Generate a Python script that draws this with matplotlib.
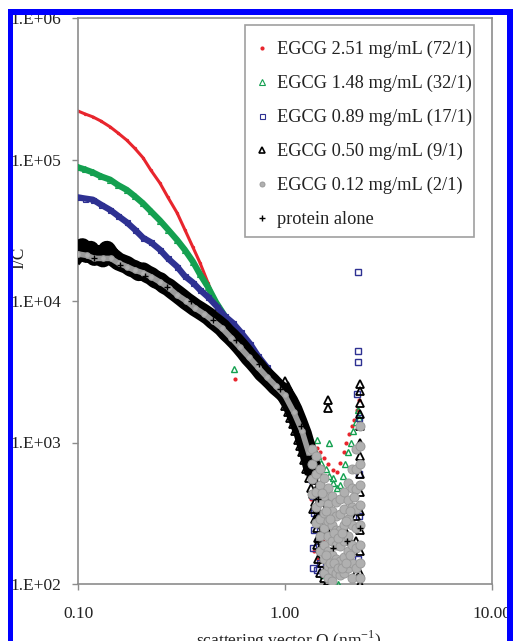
import matplotlib
matplotlib.use('Agg')
import matplotlib.pyplot as plt
from matplotlib.patches import Rectangle

plt.rcParams['font.family'] = 'Liberation Serif'
plt.rcParams['mathtext.fontset'] = 'custom'
plt.rcParams['mathtext.rm'] = 'Liberation Serif'

# ---- data (Q in nm^-1, I/C) ----
red_q = [0.100, 0.108, 0.118, 0.129, 0.143, 0.156, 0.172, 0.188, 0.206, 0.225, 0.249, 0.272, 0.301,
         0.328, 0.359, 0.388, 0.424, 0.464, 0.513, 0.560, 0.613, 0.677, 0.740, 0.810, 0.894, 0.977]
red_i = [2.2e5, 2.1e5, 2.0e5, 1.87e5, 1.7e5, 1.54e5, 1.37e5, 1.2e5, 1.03e5, 8.4e4, 6.8e4, 5.4e4, 4.2e4,
         3.2e4, 2.4e4, 1.87e4, 1.35e4, 9.6e3, 7.6e3, 6.4e3, 5.4e3, 4.4e3, 3.6e3, 3.0e3, 2.5e3, 2.1e3]
red_tail_q = [1.00, 1.05, 1.10, 1.15, 1.20, 1.25, 1.30, 1.36, 1.42, 1.48, 1.55, 1.62, 1.70, 1.78, 1.85,
              1.92, 1.98, 2.04, 2.10, 2.16, 2.22, 2.27, 1.38, 1.45, 1.52, 1.34, 0.574, 1.30]
red_tail_i = [1.9e3, 1.75e3, 1.6e3, 1.45e3, 1.3e3, 1.2e3, 1.1e3, 1.0e3, 920, 850, 780, 700, 640, 620, 720,
              850, 1000, 1150, 1300, 1450, 1700, 2000, 170, 150, 200, 400, 2.8e3, 600]

green_q = [0.100, 0.108, 0.118, 0.129, 0.143, 0.156, 0.172, 0.188, 0.206, 0.225, 0.249, 0.272, 0.301,
           0.328, 0.359, 0.388, 0.424, 0.464, 0.513, 0.560, 0.613, 0.677, 0.740, 0.810, 0.894, 0.977]
green_i = [8.8e4, 8.5e4, 8.1e4, 7.6e4, 7.2e4, 6.6e4, 6.1e4, 5.5e4, 4.9e4, 4.3e4, 3.7e4, 3.2e4, 2.7e4,
           2.3e4, 1.9e4, 1.55e4, 1.26e4, 9.8e3, 7.8e3, 6.6e3, 5.6e3, 4.6e3, 3.8e3, 3.1e3, 2.6e3, 2.2e3]
green_tail_q = [1.02, 1.08, 1.14, 1.20, 1.26, 1.32, 1.38, 1.44, 1.50, 1.57, 1.64, 1.71, 1.78, 1.84,
                1.90, 1.96, 2.02, 2.08, 2.14, 2.20, 2.25, 1.42, 1.64, 1.53, 1.80, 0.57, 1.70, 2.27]
green_tail_i = [1.8e3, 1.6e3, 1.4e3, 1.25e3, 1.1e3, 1.0e3, 900, 800, 720, 650, 580, 520, 480, 500,
                580, 700, 850, 1000, 1200, 1400, 1700, 1050, 1000, 115, 100, 3.3e3, 560, 1.5e3]

blue_q = [0.100, 0.108, 0.118, 0.129, 0.143, 0.156, 0.172, 0.188, 0.206, 0.225, 0.249, 0.272, 0.301,
          0.328, 0.359, 0.388, 0.424, 0.470, 0.513, 0.560, 0.613, 0.677, 0.740, 0.818, 0.894, 0.977]
blue_i = [5.4e4, 5.3e4, 5.2e4, 4.8e4, 4.4e4, 4.0e4, 3.6e4, 3.2e4, 2.8e4, 2.6e4, 2.3e4, 2.0e4, 1.75e4,
          1.5e4, 1.35e4, 1.2e4, 1.07e4, 9.1e3, 7.8e3, 7.0e3, 6.0e3, 5.0e3, 4.1e3, 3.4e3, 2.8e3, 2.35e3]
blue_tail_q = [1.02, 1.07, 1.12, 1.17, 1.22, 1.27, 1.33, 1.35, 1.36, 1.38, 1.38, 1.36, 1.36, 1.43, 1.47,
               1.52, 1.45, 1.42, 2.25, 2.25, 2.25, 2.22, 2.27, 2.27, 2.28, 2.26]
blue_tail_i = [2.1e3, 1.85e3, 1.6e3, 1.4e3, 1.2e3, 1.0e3, 720, 540, 420, 320, 240, 180, 130, 125, 140,
               120, 200, 300, 1.6e4, 4.4e3, 3.7e3, 2.2e3, 1.5e3, 600, 300, 150]

black_q = [0.100, 0.105, 0.110, 0.115, 0.120, 0.126, 0.132, 0.138, 0.144, 0.150, 0.157, 0.164, 0.172,
           0.180, 0.188, 0.197, 0.206, 0.216, 0.226, 0.237, 0.249, 0.261, 0.274, 0.288, 0.302, 0.317,
           0.333, 0.350, 0.368, 0.387, 0.407, 0.428, 0.450, 0.473, 0.497, 0.522, 0.549, 0.577, 0.606,
           0.637, 0.670, 0.704, 0.740, 0.778, 0.818, 0.860, 0.904, 0.950, 0.999, 1.05, 1.10, 1.16,
           1.22, 1.28, 1.34]
black_i = [2.2e4, 2.4e4, 2.15e4, 2.3e4, 2.05e4, 2.15e4, 2.0e4, 2.3e4, 2.1e4, 2.0e4, 1.9e4, 1.85e4, 1.8e4,
           1.72e4, 1.68e4, 1.6e4, 1.62e4, 1.55e4, 1.5e4, 1.42e4, 1.38e4, 1.3e4, 1.25e4, 1.18e4, 1.12e4,
           1.06e4, 1.0e4, 9.5e3, 9.0e3, 8.6e3, 8.2e3, 7.8e3, 7.3e3, 6.9e3, 6.5e3, 6.0e3, 5.6e3, 5.2e3,
           4.8e3, 4.4e3, 4.0e3, 3.7e3, 3.4e3, 3.1e3, 2.9e3, 2.7e3, 2.5e3, 2.35e3, 2.2e3, 1.95e3, 1.7e3,
           1.4e3, 1.15e3, 900, 700]
black_tail_q = [1.00, 1.00, 1.03, 1.03, 1.06, 1.06, 1.09, 1.09, 1.12, 1.12, 1.15, 1.15, 1.18, 1.18,
                1.21, 1.21, 1.24, 1.24, 1.27, 1.27, 1.30, 1.30, 1.30, 1.33, 1.33, 1.33, 1.36, 1.36,
                1.36, 1.36, 1.39, 1.39, 1.39, 1.39, 1.42, 1.42, 1.42, 1.42, 1.42, 1.45, 1.45, 1.45,
                1.45, 1.45, 1.48, 1.48, 1.48, 1.48, 1.48, 1.51, 1.51, 1.51, 1.51, 1.54, 1.54, 1.54,
                1.54, 1.58, 1.58, 1.58, 1.61, 1.61, 1.61, 1.61, 1.69, 1.69, 1.76, 1.93, 1.93, 2.05,
                2.20, 2.20, 2.20, 2.30, 2.30, 2.30, 2.30, 2.30, 2.30, 2.30, 2.30, 2.30, 2.30, 2.30,
                2.30, 2.30, 2.30]
black_tail_i = [2.7e3, 1.8e3, 2.5e3, 1.65e3, 2.3e3, 1.5e3, 2.1e3, 1.35e3, 1.9e3, 1.2e3, 1.7e3, 1.05e3,
                1.5e3, 950, 1.35e3, 850, 1.2e3, 750, 1.1e3, 650, 1.0e3, 700, 560, 900, 620, 480,
                820, 600, 430, 340, 750, 540, 380, 290, 680, 480, 340, 250, 190, 620, 440, 300, 210,
                150, 560, 400, 270, 180, 120, 500, 350, 230, 140, 450, 300, 190, 110, 400, 250, 130,
                2.0e3, 1.75e3, 350, 105, 300, 130, 220, 250, 150, 200, 300, 200, 120, 2.6e3, 2.3e3,
                1.9e3, 1.6e3, 1.3e3, 1.0e3, 800, 600, 450, 330, 240, 170, 120, 100]

gray_q = [0.100, 0.110, 0.120, 0.132, 0.144, 0.157, 0.172, 0.188, 0.206, 0.226, 0.249, 0.274, 0.302,
          0.333, 0.368, 0.407, 0.450, 0.497, 0.549, 0.606, 0.670, 0.740, 0.818, 0.904, 0.999, 1.10, 1.21,
          1.30]
gray_i = [2.15e4, 2.1e4, 2.0e4, 2.0e4, 2.0e4, 1.85e4, 1.75e4, 1.65e4, 1.58e4, 1.48e4, 1.36e4, 1.24e4,
          1.1e4, 1.0e4, 8.9e3, 8.1e3, 7.2e3, 6.4e3, 5.5e3, 4.7e3, 4.0e3, 3.4e3, 2.9e3, 2.5e3, 2.15e3,
          1.65e3, 1.2e3, 850]
gray_tail_q = [1.35, 1.35, 1.35, 1.35, 1.41, 1.41, 1.41, 1.41, 1.41, 1.48, 1.48, 1.48, 1.48, 1.48, 1.48,
               1.54, 1.54, 1.54, 1.54, 1.54, 1.54, 1.54, 1.61, 1.61, 1.61, 1.61, 1.61, 1.61, 1.61,
               1.69, 1.69, 1.69, 1.69, 1.69, 1.69, 1.69, 1.76, 1.76, 1.76, 1.76, 1.76, 1.76,
               1.84, 1.84, 1.84, 1.84, 1.84, 1.84, 1.93, 1.93, 1.93, 1.93, 1.93, 1.93,
               2.01, 2.01, 2.01, 2.01, 2.01, 2.01, 2.11, 2.11, 2.11, 2.11, 2.11, 2.11, 2.11,
               2.20, 2.20, 2.20, 2.20, 2.20, 2.20, 2.20, 2.30, 2.30, 2.30, 2.30, 2.30, 2.30, 2.30,
               2.30, 2.30, 1.51, 1.58, 1.65, 1.72, 1.80, 1.88, 1.97, 2.06, 2.15, 1.58, 1.65, 1.72,
               1.80, 1.88, 1.97, 2.06]
gray_tail_i = [900, 700, 550, 430, 800, 600, 450, 350, 270, 650, 500, 380, 290, 220, 170,
               560, 420, 320, 250, 190, 150, 120, 480, 370, 280, 220, 170, 135, 110,
               420, 330, 260, 200, 160, 125, 105, 380, 300, 240, 190, 150, 120,
               400, 310, 240, 185, 145, 115, 450, 340, 260, 200, 155, 120,
               520, 390, 290, 220, 170, 130, 650, 480, 350, 260, 190, 140, 110,
               900, 650, 470, 340, 250, 180, 130, 1300, 950, 700, 500, 360, 260, 190,
               140, 110, 440, 330, 290, 230, 210, 230, 280, 330, 410, 160, 140, 140,
               130, 130, 140, 160]

protein_q = [0.12, 0.16, 0.21, 0.27, 0.35, 0.45, 0.58, 0.75, 0.95, 1.2, 1.45, 1.7, 2.0, 2.3]
protein_i = [2.0e4, 1.8e4, 1.5e4, 1.25e4, 1.0e4, 7.4e3, 5.3e3, 3.6e3, 2.4e3, 1.3e3, 400, 180, 200, 250]

labels = ['EGCG 2.51 mg/mL (72/1)', 'EGCG 1.48 mg/mL (32/1)', 'EGCG 0.89 mg/mL (17/1)',
          'EGCG 0.50 mg/mL (9/1)', 'EGCG 0.12 mg/mL (2/1)', 'protein alone']

RED = '#e8252d'
GREEN = '#14a050'
BLUE = '#2e3192'
GRAY = '#9a9a9a'

W, H = 513, 641
fig = plt.figure(figsize=(W / 100, H / 100), dpi=100)
ax = fig.add_axes([78 / W, 1 - 584 / H, (492 - 78) / W, (584 - 18) / H])

# red
ax.plot(red_q, red_i, '-', color=RED, lw=2.2, zorder=2)
h_red, = ax.plot(red_q, red_i, 'o', color=RED, ms=2.4, mew=0, zorder=2, label=labels[0])
ax.plot(red_tail_q, red_tail_i, 'o', color=RED, ms=3, mew=0, zorder=2)
# green
ax.plot(green_q, green_i, '-', color=GREEN, lw=4.5, zorder=3)
h_green, = ax.plot(green_q, green_i, '^', color=GREEN, mfc='none', ms=4, mew=0.8, zorder=3, label=labels[1])
ax.plot(green_tail_q, green_tail_i, '^', color=GREEN, mfc='none', ms=4.5, mew=1.0, zorder=3)
# blue
ax.plot(blue_q, blue_i, '-', color=BLUE, lw=4.5, zorder=4)
h_blue, = ax.plot(blue_q, blue_i, 's', color=BLUE, mfc='none', ms=3.6, mew=0.8, zorder=4, label=labels[2])
ax.plot(blue_tail_q, blue_tail_i, 's', color=BLUE, mfc='none', ms=4, mew=1.0, zorder=4)
# black
ax.plot(black_q, black_i, '-', color='black', lw=13, zorder=5)
h_black, = ax.plot(black_q, black_i, '^', color='black', mfc='none', ms=7, mew=1.2, zorder=5, label=labels[3])
ax.plot(black_tail_q, black_tail_i, '^', color='black', mfc='none', ms=6, mew=1.3, zorder=5)
# gray
ax.plot(gray_q, gray_i, '-', color=GRAY, lw=4, zorder=6)
h_gray, = ax.plot(gray_q, gray_i, 'o', color=GRAY, mfc='#b0b0b0', ms=4, mew=0.7, zorder=6, label=labels[4])
ax.plot(gray_tail_q, gray_tail_i, 'o', color=GRAY, mfc='#b0b0b0', ms=6.5, mew=0.7, zorder=6)
# protein alone
h_prot, = ax.plot(protein_q, protein_i, '+', color='black', ms=4, mew=1.0, zorder=7, label=labels[5])

ax.set_xscale('log')
ax.set_yscale('log')
ax.set_xlim(0.1, 10)
ax.set_ylim(100, 1e6)
ax.minorticks_off()
ax.set_xticks([0.1, 1, 10])
ax.set_xticklabels(['0.10', '1.00', '10.00'])
ax.set_yticks([1e2, 1e3, 1e4, 1e5, 1e6])
ax.set_yticklabels(['1.E+02', '1.E+03', '1.E+04', '1.E+05', '1.E+06'])
for s in ax.spines.values():
    s.set_color('#8c8c8c')
    s.set_linewidth(1.2)
ax.tick_params(axis='both', direction='out', length=4, width=1, color='#8c8c8c',
               labelsize=12.5, labelcolor='#222222')
ax.tick_params(axis='x', pad=12)
ax.tick_params(axis='y', pad=8)

# legend frame drawn on its own, the entries placed inside it
frame = Rectangle((245 / W, 1 - 237 / H), (474 - 245) / W, (237 - 25) / H, transform=fig.transFigure,
                  facecolor='white', edgecolor='#a0a0a0', lw=1.2, zorder=8, clip_on=False)
ax.add_patch(frame)
leg = ax.legend(handles=[h_red, h_green, h_blue, h_black, h_gray, h_prot],
                loc='upper left', bbox_to_anchor=(258.5 / W, 1 - 41 / H), bbox_transform=fig.transFigure,
                fontsize=13.2, frameon=False, handlelength=0.4, handletextpad=0.62,
                labelspacing=0.91, borderpad=0, borderaxespad=0)
leg.set_zorder(9)
for t in leg.get_texts():
    t.set_color('#222222')
for hd, ms in zip(leg.legend_handles, [3, 4, 3.6, 4, 3.6, 4.5]):
    hd.set_markersize(ms)

fig.text(19 / W, 1 - 258 / H, 'I/C', rotation=90, ha='center', va='center', fontsize=12.5, color='#222222')
fig.text(289 / W, 1 - 629 / H, r'scattering vector Q (nm$^{\mathregular{-1}}$)', ha='center', va='top',
         fontsize=12.5, color='#222222')

# blue frame round the picture
for (x0, y0, w, h) in [(8, 9, 505, 6), (8, 9, 5, 632), (507, 9, 6, 632)]:
    fig.add_artist(Rectangle((x0 / W, 1 - (y0 + h) / H), w / W, h / H, transform=fig.transFigure,
                             facecolor='#0000ff', edgecolor='none', zorder=20))

fig.savefig('out.png', dpi=100)
